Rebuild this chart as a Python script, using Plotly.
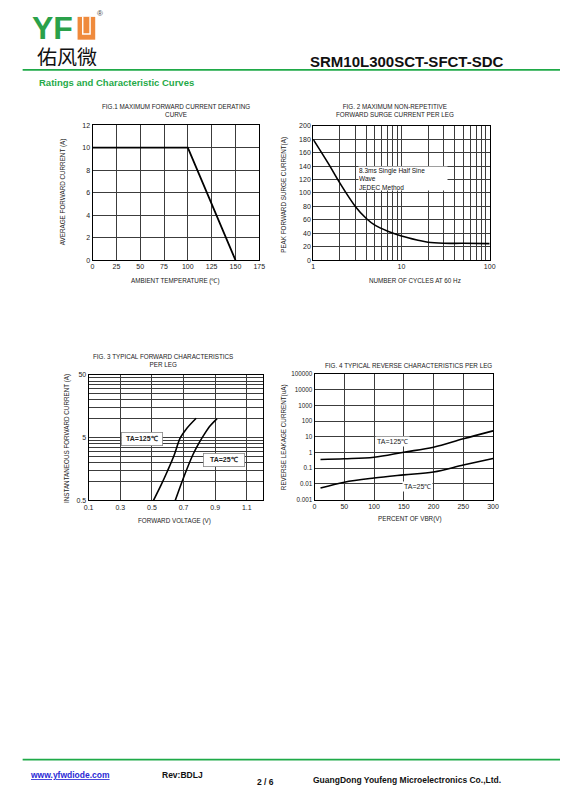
import plotly.graph_objects as go

W, H = 566, 805

# Fig.1 derating curve
fig1_temp = [0, 100, 150]
fig1_current = [10, 10, 0]

# Fig.2 surge current vs cycles
fig2_cycles = [1, 1.5, 2, 3, 4, 5, 7, 10, 15, 20, 30, 50, 100]
fig2_surge = [180, 143, 115, 80, 62, 52, 43, 36, 30, 26.5, 25, 25, 24.5]

# Fig.3 forward characteristics
fig3_vf_125 = [0.51, 0.56, 0.60, 0.64, 0.68, 0.72, 0.78]
fig3_if_125 = [0.5, 0.9, 1.5, 2.6, 5.0, 7.0, 10.2]
fig3_vf_25 = [0.648, 0.70, 0.76, 0.80, 0.83, 0.87, 0.912]
fig3_if_25 = [0.5, 1.15, 2.7, 4.2, 5.6, 7.8, 10.1]

# Fig.4 reverse characteristics
fig4_pct = [10, 50, 100, 150, 200, 250, 300]
fig4_ir_125 = [0.36, 0.40, 0.50, 1.05, 2.2, 7.5, 24]
fig4_ir_25 = [0.0055, 0.013, 0.024, 0.038, 0.058, 0.16, 0.42]

fig4_ticks = [0.001, 0.01, 0.1, 1, 10, 100, 1000, 10000, 100000]
fig4_ticktext = ["0.001", "0.01", "0.1", "1", "10", "100", "1000", "10000", "100000"]


def px(x):
    return x / W


def py(y):
    return 1 - y / H


FONT = "Liberation Sans, Arial, sans-serif"
GRID = "#3c3c3c"
GREEN = "#1faa48"
TICKFONT = dict(family=FONT, size=7, color="#222")

fig = go.Figure()

fig.add_trace(go.Scatter(x=fig1_temp, y=fig1_current, mode="lines",
                         line=dict(color="black", width=1.8), xaxis="x", yaxis="y"))
fig.add_trace(go.Scatter(x=fig2_cycles, y=fig2_surge, mode="lines",
                         line=dict(color="black", width=1.6, shape="spline"), xaxis="x2", yaxis="y2"))
fig.add_trace(go.Scatter(x=fig3_vf_125, y=fig3_if_125, mode="lines",
                         line=dict(color="black", width=1.6, shape="spline"), xaxis="x3", yaxis="y3"))
fig.add_trace(go.Scatter(x=fig3_vf_25, y=fig3_if_25, mode="lines",
                         line=dict(color="black", width=1.6, shape="spline"), xaxis="x3", yaxis="y3"))
fig.add_trace(go.Scatter(x=fig4_pct, y=fig4_ir_125, mode="lines",
                         line=dict(color="black", width=1.6, shape="spline"), xaxis="x4", yaxis="y4"))
fig.add_trace(go.Scatter(x=fig4_pct, y=fig4_ir_25, mode="lines",
                         line=dict(color="black", width=1.6, shape="spline"), xaxis="x4", yaxis="y4"))


def ax(**kw):
    d = dict(showline=True, mirror=True, linecolor="black", linewidth=1,
             showgrid=True, gridcolor=GRID, gridwidth=1, zeroline=False,
             ticks="", tickfont=TICKFONT, fixedrange=True)
    d.update(kw)
    return d


fig.update_layout(
    width=W, height=H, margin=dict(l=0, r=0, t=0, b=0),
    paper_bgcolor="white", plot_bgcolor="white", showlegend=False,
    xaxis=ax(domain=[px(89.3), px(259.3)], range=[0, 175], dtick=25, anchor="y"),
    yaxis=ax(domain=[py(258.3), py(122.3)], range=[0, 12], dtick=2, anchor="x"),
    xaxis2=ax(domain=[px(314.3), px(494.3)], type="log", range=[0, 2],
              tickvals=[1, 10, 100], anchor="y2",
              minor=dict(tickmode="array", showgrid=True, gridcolor=GRID,
                         tickvals=[2, 3, 4, 5, 6, 7, 8, 9, 20, 30, 40, 50, 60, 70, 80, 90])),
    yaxis2=ax(domain=[py(258.3), py(123)], range=[0, 200], dtick=20, anchor="x2"),
    xaxis3=ax(domain=[px(85.3), px(262.7)], range=[0.1, 1.2],
              tickvals=[0.1, 0.3, 0.5, 0.7, 0.9, 1.1], anchor="y3"),
    yaxis3=ax(domain=[py(500.7), py(374.3)], type="log", range=[-0.30103, 1.69897],
              tickvals=[0.5, 5, 50], ticktext=["0.5", "5", "50"], anchor="x3",
              minor=dict(tickmode="array", showgrid=True, gridcolor=GRID,
                         tickvals=[1, 1.5, 2, 2.5, 3, 3.5, 4, 4.5, 10, 15, 20, 25, 30, 35, 40, 45])),
    xaxis4=ax(domain=[px(315.7), px(497.7)], range=[0, 300], dtick=50, anchor="y4"),
    yaxis4=ax(domain=[py(500), py(373.3)], type="log", range=[-3, 5],
              tickvals=fig4_ticks, ticktext=fig4_ticktext, anchor="x4",
              tickfont=dict(family=FONT, size=6.3, color="#222")),
)

shapes = []
# header / footer green rules
shapes.append(dict(type="line", xref="paper", yref="paper", x0=px(18), x1=1, y0=py(66.5), y1=py(66.5),
                   line=dict(color=GREEN, width=1.6)))
shapes.append(dict(type="line", xref="paper", yref="paper", x0=px(18), x1=1, y0=py(762.3), y1=py(762.3),
                   line=dict(color=GREEN, width=1.6)))
# logo "U" block
shapes.append(dict(type="rect", xref="paper", yref="paper", x0=px(74), x1=px(92), y0=py(36), y1=py(13),
                   fillcolor="#ef8a3c", line=dict(width=0)))
shapes.append(dict(type="rect", xref="paper", yref="paper", x0=px(78.5), x1=px(87.5), y0=py(31), y1=py(13),
                   fillcolor="white", line=dict(width=0)))
shapes.append(dict(type="rect", xref="paper", yref="paper", x0=px(80), x1=px(86), y0=py(29.5), y1=py(13),
                   fillcolor="#ef8a3c", line=dict(width=0)))
fig.update_layout(shapes=shapes)

ann = []


def text(x, y, s, size=7, bold=False, color="#222", xanchor="center", yanchor="middle", angle=0, family=FONT, **kw):
    if bold:
        s = "<b>" + s + "</b>"
    ann.append(dict(x=px(x), y=py(y), xref="paper", yref="paper", text=s, showarrow=False,
                    font=dict(family=family, size=size, color=color),
                    xanchor=xanchor, yanchor=yanchor, textangle=angle, **kw))


# header
text(25.5, 24, "YF", size=32, bold=True, color="#2aa14a", xanchor="left",
     family="Liberation Sans, Arial", height=24, valign="middle")
text(97, 10, "®", size=8, color="#444")
text(31, 52.5, "佑风微", size=20, color="#111", xanchor="left", family="Noto Sans CJK SC",
     height=20, valign="middle")
text(511, 58, "SRM10L300SCT-SFCT-SDC", size=15, bold=True, color="#111", xanchor="right")
text(33, 79.3, "Ratings and Characteristic Curves", size=9.5, bold=True, color=GREEN, xanchor="left")

# fig 1
text(174, 107.5, "FIG.1 MAXIMUM FORWARD CURRENT DERATING<br>CURVE", size=6.3)
text(174, 279, "AMBIENT TEMPERATURE (℃)", size=6.3)
text(60, 190, "AVERAGE FORWARD CURRENT (A)", size=6.3, angle=-90)

# fig 2
text(398, 107.5, "FIG. 2 MAXIMUM NON-REPETITIVE<br>FORWARD SURGE CURRENT PER LEG", size=6.3)
text(418, 279, "NUMBER OF CYCLES AT 60 Hz", size=6.3)
text(285, 192, "PEAK FORWARD SURGE CURRENT(A)", size=6.3, angle=-90)
text(360, 176.5, "8.3ms Single Half Sine<br>Wave<br>JEDEC Method", size=6.5, color="#111",
     xanchor="left", align="left", valign="top", bgcolor="white", width=88, height=23, borderpad=0)

# fig 3
text(161, 360, "FIG. 3 TYPICAL FORWARD CHARACTERISTICS<br>PER LEG", size=6.3)
text(173, 521.5, "FORWARD VOLTAGE (V)", size=6.3)
text(63, 438, "INSTANTANEOUS FORWARD CURRENT (A)", size=6.3, angle=-90)
text(140, 439, "TA=125℃", size=7, bold=True, bgcolor="white", bordercolor="#888", borderwidth=0.8,
     width=38, height=10)
text(223.5, 459.5, "TA=25℃", size=7, bold=True, bgcolor="white", bordercolor="#888", borderwidth=0.8,
     width=38, height=10)

# fig 4
text(411, 365, "FIG. 4 TYPICAL REVERSE CHARACTERISTICS PER LEG", size=6.3)
text(413, 520, "PERCENT OF VBR(V)", size=6.3)
text(284.5, 437, "REVERSE LEAKAGE CURRENT(uA)", size=6.3, angle=-90)
text(395, 441, "TA=125℃", size=7, bgcolor="white")
text(421, 486.5, "TA=25℃", size=7, bgcolor="white")

# footer
text(23.5, 778, "<u>www.yfwdiode.com</u>", size=8.5, bold=True, color="#2b2bd6", xanchor="left")
text(158, 778, "Rev:BDLJ", size=8.5, bold=True, color="#111", xanchor="left")
text(255, 785, "2 / 6", size=8.5, bold=True, color="#111", xanchor="left")
text(312, 783, "GuangDong Youfeng Microelectronics Co.,Ltd.", size=8.5, bold=True, color="#111", xanchor="left")

fig.update_layout(annotations=ann)

fig.write_html("out.html", config={"displayModeBar": False},
               post_script="document.body.style.margin='0px';"
                           "document.body.style.overflow='hidden';"
                           "document.documentElement.style.overflow='hidden';")
